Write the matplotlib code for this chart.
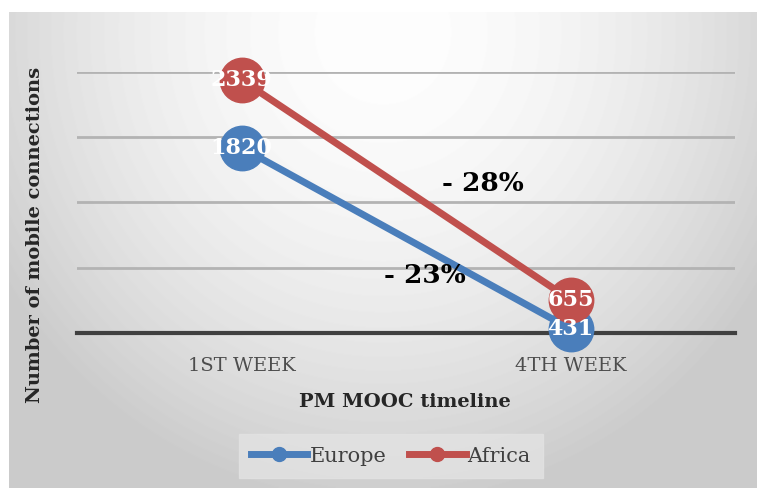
import numpy as np
import matplotlib
matplotlib.use("Agg")
import matplotlib.pyplot as plt

# data
weeks = ["1ST WEEK", "4TH WEEK"]
europe = [1820, 431]
africa = [2339, 655]
drops = ["- 23%", "- 28%"]

blue = "#4a7ebb"
red = "#c0504d"
serif = ["DejaVu Serif"]

fig = plt.figure(figsize=(7.63, 4.88), dpi=100, facecolor="white")

# chart area with radial grey gradient
bg = fig.add_axes([9 / 763, 0, 748 / 763, 476 / 488], zorder=-5)
h, w = 476, 748
yy, xx = np.mgrid[0:h, 0:w]
d = np.sqrt(((xx - w * 0.5) / (w * 0.6)) ** 2 + ((yy - 20) / (h * 1.0)) ** 2)
d = np.clip(d, 0, 1.0)
shade = 0.995 - 0.2 * d ** 1.8
bg.imshow(shade, cmap="gray", vmin=0, vmax=1, aspect="auto", extent=(0, 1, 0, 1), origin="upper")
bg.set_axis_off()

ax = fig.add_axes([77 / 763, 1 - 333 / 488, 658 / 763, 261 / 488])
ax.patch.set_alpha(0)
x = np.arange(len(weeks))

ax.set_xlim(-0.5, 1.5)
ax.set_ylim(400, 2400)
ax.set_yticks([900, 1400, 1900, 2400])
ax.yaxis.grid(True, color="#b3b3b3", lw=2)
ax.set_axisbelow(True)
ax.tick_params(axis="y", length=0, labelleft=False)
ax.tick_params(axis="x", length=0, pad=17, labelsize=14, labelcolor="#4d4d4d")
ax.set_xticks(x)
ax.set_xticklabels(weeks, family=serif)
for s in ["left", "right", "top"]:
    ax.spines[s].set_visible(False)
ax.spines["bottom"].set_color("#404040")
ax.spines["bottom"].set_linewidth(3)

ax.plot(x, europe, color=blue, lw=5, marker="o", ms=32, label="Europe", clip_on=False, zorder=3)
ax.plot(x, africa, color=red, lw=5, marker="o", ms=32, label="Africa", clip_on=False, zorder=4)

for xi, v in zip(x, europe):
    ax.text(xi, v, str(v), ha="center", va="center", color="white", fontsize=16,
            fontweight="bold", family=serif, zorder=6)
for xi, v in zip(x, africa):
    ax.text(xi, v, str(v), ha="center", va="center", color="white", fontsize=16,
            fontweight="bold", family=serif, zorder=6)

ax.text(0.558, 837, drops[0], ha="center", va="center", fontsize=19, fontweight="bold", family=serif)
ax.text(0.734, 1549, drops[1], ha="center", va="center", fontsize=19, fontweight="bold", family=serif)

fig.text(405 / 763, 1 - 402 / 488, "PM MOOC timeline", ha="center", va="center",
         fontsize=14, fontweight="bold", family=serif, color="#262626")
fig.text(35 / 763, 1 - 235 / 488, "Number of mobile connections", ha="center", va="center",
         rotation=90, fontsize=14, fontweight="bold", family=serif, color="#262626")

handles = [plt.Line2D([], [], color=blue, lw=5, marker="o", ms=10),
           plt.Line2D([], [], color=red, lw=5, marker="o", ms=10)]
leg = fig.legend(handles, ["Europe", "Africa"], loc="center", bbox_to_anchor=(391 / 763, 1 - 456 / 488),
                 ncol=2, frameon=True, fancybox=False, handlelength=2.7, handletextpad=0.1,
                 columnspacing=1.1, borderpad=0.6, prop={"family": serif, "size": 15})
leg.get_frame().set_facecolor("#e3e3e3")
leg.get_frame().set_edgecolor("#e3e3e3")
for t in leg.get_texts():
    t.set_color("#404040")

fig.savefig("out.png", dpi=100)
